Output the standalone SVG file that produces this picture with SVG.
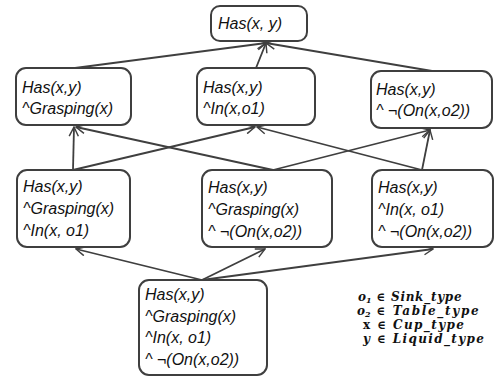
<svg xmlns="http://www.w3.org/2000/svg" width="496" height="378" viewBox="0 0 496 378">
  <style>
    .box { fill: #ffffff; stroke: #3f3f3f; stroke-width: 2; }
    .lbl { font-family: "Liberation Sans", Arial, sans-serif; font-style: italic; font-size: 16px; fill: #111111; }
    .edge { fill: none; stroke: #3f3f3f; stroke-width: 1.8; marker-end: url(#open); }
    .key { font-family: "DejaVu Serif", "Liberation Serif", serif; font-style: italic; font-weight: bold; font-size: 12px; fill: #111111; }
    .up { font-style: normal; }
    .sub { font-size: 8px; }
  </style>
  <defs>
    <marker id="open" viewBox="0 0 12 12" refX="11" refY="6" markerWidth="11" markerHeight="11" markerUnits="userSpaceOnUse" orient="auto">
      <path d="M1,1 L11,6 L1,11" fill="none" stroke="#3f3f3f" stroke-width="1.6"/>
    </marker>
  </defs>

  <rect width="496" height="378" fill="#ffffff"/>

  <!-- connectors -->
  <g id="connectors">
    <line class="edge" x1="75" y1="68" x2="266" y2="43"/>
    <line class="edge" x1="256" y1="68" x2="266" y2="43"/>
    <line class="edge" x1="432" y1="71" x2="266" y2="43"/>

    <line class="edge" x1="73" y1="170" x2="74" y2="127"/>
    <line class="edge" x1="73" y1="170" x2="255" y2="127"/>
    <line class="edge" x1="273" y1="170" x2="76" y2="127"/>
    <line class="edge" x1="273" y1="170" x2="430" y2="130"/>
    <line class="edge" x1="422" y1="170" x2="257" y2="127"/>
    <line class="edge" x1="422" y1="170" x2="430" y2="130"/>

    <line class="edge" x1="202" y1="280" x2="76" y2="249"/>
    <line class="edge" x1="202" y1="280" x2="265" y2="249"/>
    <line class="edge" x1="202" y1="280" x2="433" y2="249"/>
  </g>

  <!-- goal -->
  <g id="goal">
    <rect class="box" x="211" y="6" width="96" height="35" rx="9"/>
    <text class="lbl" x="218" y="29">Has(x, y)</text>
  </g>

  <!-- second row -->
  <g id="has-grasping">
    <rect class="box" x="16" y="68" width="115" height="57" rx="10"/>
    <text class="lbl" x="22" y="93">Has(x,y)</text>
    <text class="lbl" x="22" y="114">^Grasping(x)</text>
  </g>
  <g id="has-in">
    <rect class="box" x="197" y="68" width="118" height="57" rx="10"/>
    <text class="lbl" x="203" y="93">Has(x,y)</text>
    <text class="lbl" x="203" y="114">^In(x,o1)</text>
  </g>
  <g id="has-noton">
    <rect class="box" x="371" y="71" width="121" height="57" rx="10"/>
    <text class="lbl" x="376" y="95">Has(x,y)</text>
    <text class="lbl" x="376" y="116">^ ¬(On(x,o2))</text>
  </g>

  <!-- third row -->
  <g id="has-grasping-in">
    <rect class="box" x="17" y="170" width="113" height="77" rx="10"/>
    <text class="lbl" x="23" y="192">Has(x,y)</text>
    <text class="lbl" x="23" y="214">^Grasping(x)</text>
    <text class="lbl" x="23" y="236">^In(x, o1)</text>
  </g>
  <g id="has-grasping-noton">
    <rect class="box" x="202" y="170" width="130" height="77" rx="10"/>
    <text class="lbl" x="208" y="193">Has(x,y)</text>
    <text class="lbl" x="208" y="215">^Grasping(x)</text>
    <text class="lbl" x="208" y="237">^ ¬(On(x,o2))</text>
  </g>
  <g id="has-in-noton">
    <rect class="box" x="372" y="170" width="121" height="77" rx="10"/>
    <text class="lbl" x="378" y="193">Has(x,y)</text>
    <text class="lbl" x="378" y="215">^In(x, o1)</text>
    <text class="lbl" x="378" y="237">^ ¬(On(x,o2))</text>
  </g>

  <!-- full conjunction -->
  <g id="has-all">
    <rect class="box" x="139" y="280" width="128" height="95" rx="10"/>
    <text class="lbl" x="145" y="300">Has(x,y)</text>
    <text class="lbl" x="145" y="322">^Grasping(x)</text>
    <text class="lbl" x="145" y="343">^In(x, o1)</text>
    <text class="lbl" x="145" y="365">^ ¬(On(x,o2))</text>
  </g>

  <!-- variable types -->
  <g id="types">
    <text class="key" x="358" y="301">o<tspan class="sub" dy="2">1</tspan><tspan dy="-2" textLength="90" lengthAdjust="spacing"> ∈ Sink_type</tspan></text>
    <text class="key" x="357" y="315">o<tspan class="sub" dy="2">2</tspan><tspan dy="-2" textLength="108" lengthAdjust="spacing"> ∈ Table_type</tspan></text>
    <text class="key" x="363" y="329" textLength="101" lengthAdjust="spacing"><tspan class="up">x</tspan> ∈ Cup_type</text>
    <text class="key" x="363" y="343" textLength="121" lengthAdjust="spacing">y ∈ Liquid_type</text>
  </g>
</svg>
